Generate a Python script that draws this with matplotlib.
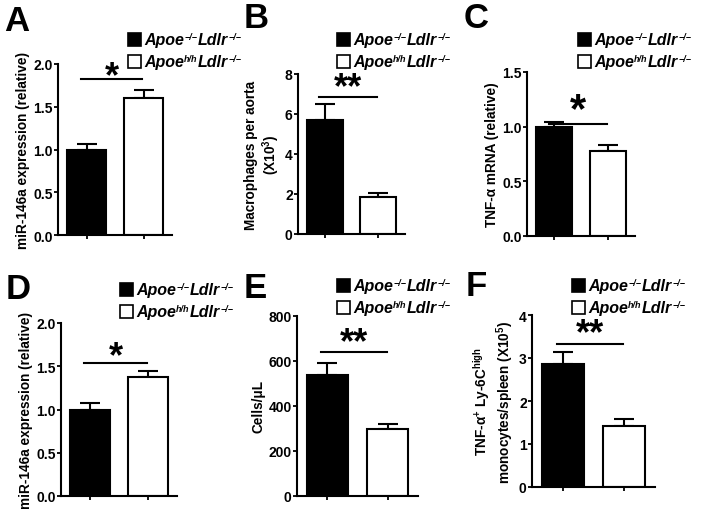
import matplotlib
matplotlib.use("Agg")
import matplotlib.pyplot as plt
from matplotlib.patches import Rectangle
from matplotlib.offsetbox import TextArea, HPacker, VPacker, DrawingArea, AnchoredOffsetbox

plt.rcParams['font.family'] = ['Liberation Sans', 'DejaVu Sans']
plt.rcParams['font.weight'] = 'bold'
plt.rcParams['axes.labelweight'] = 'bold'
plt.rcParams['mathtext.fontset'] = 'custom'
plt.rcParams['mathtext.rm'] = 'Liberation Sans:bold'
plt.rcParams['mathtext.bf'] = 'Liberation Sans:bold'

# ---------------- data ----------------
# legend entries: (base1, sup1, base2, sup2)
group_ko = ("Apoe", "\u2212/\u2212", "Ldlr", "\u2212/\u2212")
group_hh = ("Apoe", "h/h", "Ldlr", "\u2212/\u2212")
group_colors = ["black", "white"]
panel_letters = ["A", "B", "C", "D", "E", "F"]

means_A = [1.0, 1.6]
errs_A = [0.07, 0.10]
means_B = [5.7, 1.85]
errs_B = [0.8, 0.2]
means_C = [1.0, 0.775]
errs_C = [0.045, 0.06]
means_D = [1.0, 1.38]
errs_D = [0.08, 0.07]
means_E = [540, 300]
errs_E = [50, 20]
means_F = [2.87, 1.42]
errs_F = [0.28, 0.16]

sig_A, sig_B, sig_C, sig_D, sig_E, sig_F = "*", "**", "*", "*", "**", "**"
sigy_A, sigy_B, sigy_C, sigy_D, sigy_E, sigy_F = 1.82, 6.85, 1.02, 1.54, 640, 3.33

ylabels = ["miR-146a expression (relative)",
           "Macrophages per aorta\n(X10$^{\\mathbf{3}}$)",
           "TNF-α mRNA (relative)",
           "miR-146a expression (relative)",
           "Cells/μL",
           "TNF-α$^{\\mathbf{+}}$ Ly-6C$^{\\mathbf{high}}$\nmonocytes/spleen (X10$^{\\mathbf{5}}$)"]
yticks_A = [0.0, 0.5, 1.0, 1.5, 2.0]
yticks_B = [0, 2, 4, 6, 8]
yticks_C = [0.0, 0.5, 1.0, 1.5]
yticks_D = [0.0, 0.5, 1.0, 1.5, 2.0]
yticks_E = [0, 200, 400, 600, 800]
yticks_F = [0, 1, 2, 3, 4]
ytl_A = ["0.0", "0.5", "1.0", "1.5", "2.0"]
ytl_B = ["0", "2", "4", "6", "8"]
ytl_C = ["0.0", "0.5", "1.0", "1.5"]
ytl_D = ["0.0", "0.5", "1.0", "1.5", "2.0"]
ytl_E = ["0", "200", "400", "600", "800"]
ytl_F = ["0", "1", "2", "3", "4"]

panels = [
    (means_A, errs_A, sig_A, sigy_A, yticks_A, ytl_A),
    (means_B, errs_B, sig_B, sigy_B, yticks_B, ytl_B),
    (means_C, errs_C, sig_C, sigy_C, yticks_C, ytl_C),
    (means_D, errs_D, sig_D, sigy_D, yticks_D, ytl_D),
    (means_E, errs_E, sig_E, sigy_E, yticks_E, ytl_E),
    (means_F, errs_F, sig_F, sigy_F, yticks_F, ytl_F),
]

# ---------------- layout (pixels) ----------------
W, H = 701, 510
rects_px = [(58, 172, 65, 236), (298, 405, 75, 235), (527, 635, 73, 237),
            (61, 177, 324, 497), (297, 418, 317, 497), (532, 655, 316, 488)]
letter_px = [(4, 31), (244, 28), (464, 28), (6, 299), (244, 298), (466, 296)]
legend_px = [(128, 33), (337, 33), (578, 33), (120, 283), (337, 279), (572, 279)]
star_off = [-11, -6, -4, -8, -6, -5]
star_size = [26, 26, 30, 26, 26, 26]


def legend_row(color, parts):
    da = DrawingArea(9.5, 9.5, 0, 0)
    da.add_artist(Rectangle((0, 0), 9.5, 9.5, facecolor=color,
                            edgecolor='black', linewidth=1.2))
    big = dict(size=11.5, style='italic', weight='bold', color='black')
    small = dict(size=6.5, style='italic', weight='bold', color='black')
    txt = HPacker(children=[TextArea(parts[0], textprops=big),
                            TextArea(parts[1], textprops=small),
                            TextArea(parts[2], textprops=big),
                            TextArea(parts[3], textprops=small)],
                  align='top', pad=0, sep=0.3)
    return HPacker(children=[da, txt], align='center', pad=0, sep=2)


fig = plt.figure(figsize=(W / 100, H / 100), dpi=100)

for i, (means, errs, sig, sigy, yt, ytl) in enumerate(panels):
    l, r, t, b = rects_px[i]
    ax = fig.add_axes([l / W, 1 - b / H, (r - l) / W, (b - t) / H])
    x = [0, 1]
    ax.bar(x, means, width=0.68, color=group_colors, edgecolor='black',
           linewidth=1.5, zorder=2)
    ax.errorbar(x, means, yerr=[[0, 0], errs], fmt='none', ecolor='black',
                elinewidth=1.5, capsize=7, capthick=1.5, zorder=1)
    ax.set_xlim(-0.5, 1.5)
    ax.set_ylim(yt[0], yt[-1])
    ax.set_yticks(yt)
    ax.set_yticklabels(ytl)
    ax.set_xticks(x)
    ax.set_xticklabels(["", ""])
    for s in ['top', 'right']:
        ax.spines[s].set_visible(False)
    for s in ['left', 'bottom']:
        ax.spines[s].set_linewidth(1.5)
    ax.tick_params(axis='both', direction='out', length=3, width=1.3,
                   labelsize=10, pad=0.8)
    ax.set_ylabel(ylabels[i], fontsize=9.8, labelpad=2, linespacing=1.15)
    ax.plot([-0.1, 0.98], [sigy, sigy], color='black', lw=1.5, clip_on=False)
    ax.annotate(sig, xy=(0.44, sigy), xytext=(0, star_off[i]),
                textcoords='offset points', ha='center', va='bottom',
                fontsize=star_size[i], fontweight='bold', annotation_clip=False)
    lx, ly = letter_px[i]
    fig.text(lx / W, 1 - ly / H, panel_letters[i], fontsize=25,
             fontweight='bold', ha='left', va='baseline')
    gx, gy = legend_px[i]
    rows = [legend_row(group_colors[0], group_ko),
            legend_row(group_colors[1], group_hh)]
    box = VPacker(children=rows, align='left', pad=0, sep=5)
    anch = AnchoredOffsetbox(loc='upper left', child=box, pad=0, borderpad=0,
                             frameon=False, bbox_to_anchor=(gx / W, 1 - gy / H),
                             bbox_transform=fig.transFigure)
    fig.add_artist(anch)

fig.savefig("out.png", dpi=100)
